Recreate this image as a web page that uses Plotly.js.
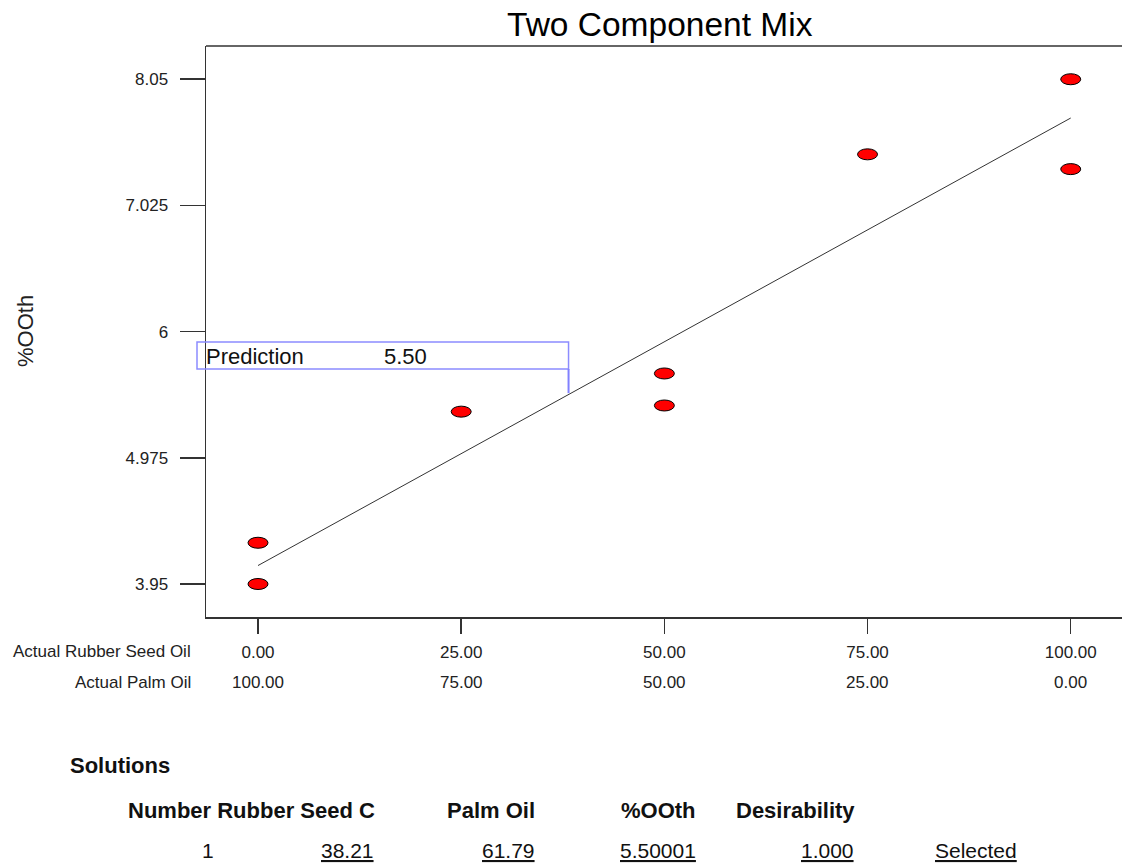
<!DOCTYPE html>
<html><head><meta charset="utf-8">
<script src="https://cdn.plot.ly/plotly-3.0.1.min.js"></script>
<style>html,body{margin:0;padding:0;background:#fff;overflow:hidden}</style>
</head><body><div id="chart" style="width:1122px;height:867px"></div>
<script>
// ---- data ----
const rubberSeedOil = [0, 0, 25, 50, 50, 75, 100, 100];
const oothActual   = [4.285, 3.95, 5.35, 5.66, 5.40, 7.44, 8.05, 7.32];
const fitRubber    = [0, 100];
const fitOoth      = [4.10, 7.735];
const xTickVals    = [0, 25, 50, 75, 100];
const xTickText    = ["0.00", "25.00", "50.00", "75.00", "100.00"];
const palmOilText  = ["100.00", "75.00", "50.00", "25.00", "0.00"];
const yTickVals    = [3.95, 4.975, 6, 7.025, 8.05];
const yTickText    = ["3.95", "4.975", "6", "7.025", "8.05"];
const yTitle       = "%OOth";
const predRubber   = 38.21;
const predOoth     = 5.50;
const predLabel    = "Prediction";
const predText     = "5.50";
const solHeaders   = ["Number Rubber Seed C", "Palm Oil", "%OOth", "Desirability"];
const solValues    = ["1", "38.21", "61.79", "5.50001", "1.000", "Selected"];

// ---- layout helpers ----
const M = {l: 206, r: 0, t: 46, b: 250};
const PW = 1122 - M.l - M.r, PH = 867 - M.t - M.b;
const px2x = p => (p - M.l) / PW;
const py2y = p => (867 - M.b - p) / PH;
const xRange = [-6.40, 106.31];
const yRange = [3.682, 8.32];
const dataYFromPx = p => yRange[0] + py2y(p) * (yRange[1] - yRange[0]);
const paperXFromData = v => (v - xRange[0]) / (xRange[1] - xRange[0]);

const FONT = "Arial, 'Liberation Sans', sans-serif";
const TXT = "#222";

const traces = [
  {x: fitRubber, y: fitOoth, mode: "lines", line: {color: "#333", width: 1}, hoverinfo: "skip", showlegend: false},
  {x: rubberSeedOil, y: oothActual, mode: "markers", showlegend: false,
   marker: {symbol: "circle", size: 8, color: "#ff0000", line: {color: "#000", width: 1}}}
];

const shapes = [
  {type: "line", xref: "paper", yref: "paper", x0: 0, x1: 1, y0: 1, y1: 1, line: {color: "#333", width: 1.5}}
];
rubberSeedOil.forEach((xv, i) => {
  shapes.push({type: "circle", xref: "x", yref: "y", xsizemode: "pixel", ysizemode: "pixel",
    xanchor: xv, yanchor: oothActual[i], x0: -10, x1: 10, y0: -5.5, y1: 5.5,
    fillcolor: "#ff0000", line: {color: "#000", width: 1}, layer: "above"});
});
// prediction box + stem
shapes.push({type: "rect", xref: "paper", yref: "paper", x0: px2x(197), x1: paperXFromData(predRubber),
  y0: py2y(369), y1: py2y(342), line: {color: "#8c8cff", width: 1.5}, fillcolor: "rgba(0,0,0,0)"});
shapes.push({type: "line", xref: "x", yref: "y", x0: predRubber, x1: predRubber,
  y0: dataYFromPx(369), y1: predOoth, line: {color: "#8080ff", width: 2}});

const annotations = [];
const ann = (text, x, y, xa, opts) => annotations.push(Object.assign({
  text, xref: "paper", yref: "paper", x: x, y: y, xanchor: xa, yanchor: "middle",
  showarrow: false, font: {family: FONT, size: 17, color: TXT}}, opts || {}));

ann(yTitle, px2x(25), py2y(331), "center", {textangle: -90, font: {family: FONT, size: 22, color: TXT}});
ann("Actual Rubber Seed Oil", px2x(193), py2y(651), "right");
ann("Actual Palm Oil", px2x(193), py2y(682), "right");
xTickVals.forEach((v, i) => ann(palmOilText[i], paperXFromData(v), py2y(682), "center"));

ann(predLabel, px2x(204), py2y(356), "left", {font: {family: FONT, size: 22, color: "#111"}});
ann(predText, px2x(382), py2y(356), "left", {font: {family: FONT, size: 22, color: "#111"}});

const tb = {family: FONT, size: 22, color: "#111"};
const tv = {family: FONT, size: 21, color: "#111"};
ann("<b>Solutions</b>", px2x(68), py2y(765), "left", {font: tb});
const hdrPos = [[126, "left"], [537, "right"], [698, "right"], [857, "right"]];
solHeaders.forEach((h, i) => ann("<b>" + h + "</b>", px2x(hdrPos[i][0]), py2y(810), hdrPos[i][1], {font: tb}));
const valPos = [[208, "center"], [376, "right"], [537, "right"], [698, "right"], [856, "right"], [933, "left"]];
solValues.forEach((v, i) => ann(i === 0 ? v : "<u>" + v + "</u>", px2x(valPos[i][0]), py2y(850), valPos[i][1], {font: tv}));

const layout = {
  width: 1122, height: 867, margin: M, paper_bgcolor: "#fff", plot_bgcolor: "#fff",
  title: {text: "Two Component Mix", font: {family: FONT, size: 33.5, color: "#000"},
    x: 0.588, xanchor: "center", y: 0.972, yanchor: "middle"},
  xaxis: {range: xRange, tickvals: xTickVals, ticktext: xTickText, ticks: "outside", ticklen: 15,
    tickwidth: 1.5, tickcolor: "#333", showline: true, linecolor: "#333", linewidth: 1.5,
    showgrid: false, zeroline: false, tickfont: {family: FONT, size: 17, color: TXT}, ticklabelstandoff: 4},
  yaxis: {range: yRange, tickvals: yTickVals, ticktext: yTickText, ticks: "outside", ticklen: 25,
    tickwidth: 1.5, tickcolor: "#333", showline: true, linecolor: "#333", linewidth: 1.5,
    showgrid: false, zeroline: false, tickfont: {family: FONT, size: 17, color: TXT}, ticklabelstandoff: 8},
  shapes, annotations, showlegend: false
};

Plotly.newPlot("chart", traces, layout, {displayModeBar: false, staticPlot: true});
</script></body></html>
